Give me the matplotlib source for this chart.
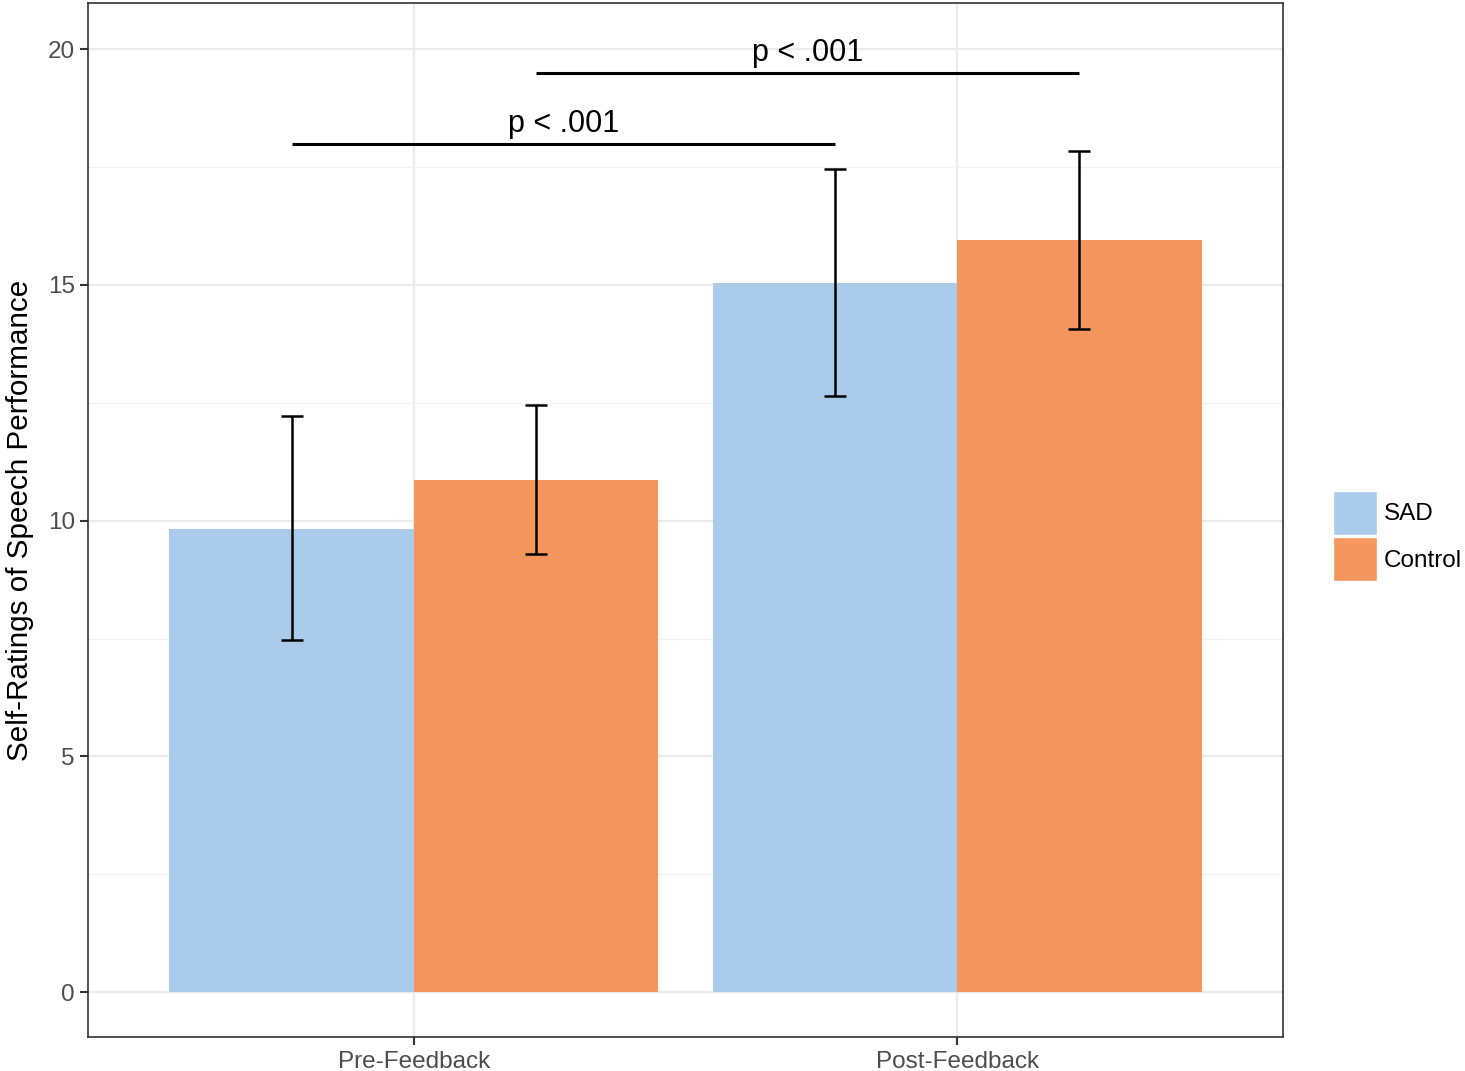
import numpy as np
import matplotlib.pyplot as plt
from matplotlib.patches import Patch

plt.rcParams['font.family'] = ['Liberation Sans', 'DejaVu Sans']

# data
phases = ["Pre-Feedback", "Post-Feedback"]
groups = ["SAD", "Control"]
means = {"SAD": [9.82, 15.04], "Control": [10.86, 15.95]}
err_low = {"SAD": [7.47, 12.64], "Control": [9.29, 14.06]}
err_high = {"SAD": [12.22, 17.45], "Control": [12.45, 17.84]}
colors = {"SAD": "#AACBEA", "Control": "#F5965F"}

# significance brackets: (x start, x end, height, label)
sig_x0 = [0.775, 1.225]
sig_x1 = [1.775, 2.225]
sig_y = [18.0, 19.5]
sig_labels = ["p < .001", "p < .001"]

fig = plt.figure(figsize=(14.65, 10.71), dpi=100)
ax = fig.add_axes([88 / 1465, 1 - 1037 / 1071, (1283 - 88) / 1465, (1037 - 3) / 1071])

x = np.arange(1, len(phases) + 1)
width = 0.45
for i, g in enumerate(groups):
    pos = x + (i - 0.5) * width
    ax.bar(pos, means[g], width=width, color=colors[g], zorder=2)
    lo = np.array(means[g]) - np.array(err_low[g])
    hi = np.array(err_high[g]) - np.array(means[g])
    ax.errorbar(pos, means[g], yerr=[lo, hi], fmt="none", ecolor="black",
                elinewidth=1.8, capsize=8, capthick=1.8, zorder=3)

for x0, x1, y, lab in zip(sig_x0, sig_x1, sig_y, sig_labels):
    ax.plot([x0, x1], [y, y], color="black", lw=2.2, zorder=4, solid_capstyle="butt")
    ax.text((x0 + x1) / 2, y + 0.1, lab, ha="center", va="bottom", fontsize=22, color="black")

ax.set_xlim(0.4, 2.6)
ax.set_ylim(-0.95, 20.98)
ax.set_xticks(x)
ax.set_xticklabels(phases)
ax.set_yticks([0, 5, 10, 15, 20])
ax.set_yticks([2.5, 7.5, 12.5, 17.5], minor=True)

ax.grid(True, which="major", color="#EBEBEB", lw=1.6, zorder=0)
ax.grid(True, which="minor", axis="y", color="#F2F2F2", lw=0.9, zorder=0)
ax.set_axisbelow(True)

for s in ax.spines.values():
    s.set_color("#333333")
    s.set_linewidth(1.2)

ax.tick_params(axis="both", which="major", colors="#333333", labelcolor="#4D4D4D",
               labelsize=17.5, length=6, width=1.5)
ax.tick_params(axis="x", which="major", pad=4)
ax.tick_params(axis="both", which="minor", length=0)

ax.set_ylabel("Self-Ratings of Speech Performance", fontsize=21.3, color="black", labelpad=10)

handles = [Patch(facecolor=colors[g], edgecolor="white", linewidth=1.0) for g in groups]
ax.legend(handles, groups, loc="center left", bbox_to_anchor=(1.042, 0.4845), frameon=False,
          fontsize=17.5, handlelength=1.8, handleheight=2.4, handletextpad=0.3,
          labelspacing=0.1, borderaxespad=0, borderpad=0)

fig.savefig("out.png", dpi=100)
